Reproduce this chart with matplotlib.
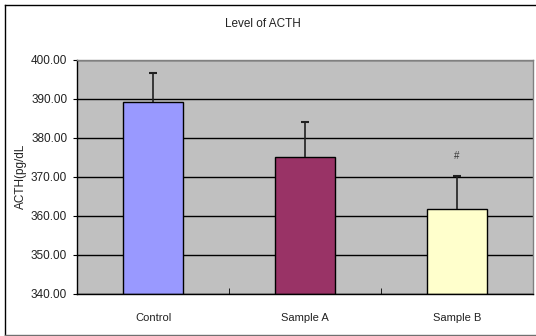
import matplotlib.pyplot as plt
from matplotlib.lines import Line2D
import numpy as np

# data
groups = ["Control", "Sample A", "Sample B"]
means = [389.2, 375.2, 361.8]
errors = [7.5, 8.9, 8.4]
bar_colors = ["#9999FF", "#993366", "#FFFFCC"]
marks = ["", "", "#"]
yticks = [340, 350, 360, 370, 380, 390, 400]

plt.rcParams['font.family'] = ['Liberation Sans', 'DejaVu Sans']

fig = plt.figure(figsize=(5.36, 3.36), dpi=100)
W, H = 536, 336
ax = fig.add_axes([77 / W, 1 - 293.5 / H, 456 / W, 233.5 / H])

x = np.arange(len(groups))
ax.set_facecolor("#C0C0C0")
ax.set_axisbelow(True)
ax.yaxis.grid(True, color="black", linewidth=1)

ax.bar(x, np.array(means) - 340, bottom=340, width=0.4, color=bar_colors,
       edgecolor="black", linewidth=1, zorder=2)
eb = ax.errorbar(x, means, yerr=[np.zeros(len(errors)), errors], fmt="none",
                 ecolor="#202020", elinewidth=1.2, capsize=3, capthick=1.5, zorder=3)
# only the upper cap is drawn in the reference
eb[1][0].set_visible(False)
eb[1][1].set_color("#404040")

for xi, m, e, s in zip(x, means, errors, marks):
    if s:
        ax.annotate(s, (xi, m + e), xytext=(0, 11), textcoords="offset points",
                    ha="center", va="bottom", fontsize=7, color="#333333")

ax.set_xlim(-0.5, 2.5)
ax.set_ylim(340, 400)
ax.set_yticks(yticks)
ax.set_yticklabels([f"{v:.2f}" for v in yticks], fontsize=8.5, color="#222222")
ax.set_xticks(x)
ax.set_xticklabels(groups, fontsize=8, color="#222222")
ax.set_xticks([0.5, 1.5], minor=True)
ax.tick_params(axis="x", which="major", length=0, pad=14)
ax.tick_params(axis="x", which="minor", direction="in", length=4, color="black")
ax.tick_params(axis="y", length=3, direction="out", pad=4)

ax.spines["left"].set_color("black")
ax.spines["bottom"].set_color("black")
ax.spines["top"].set_color("#808080")
ax.spines["right"].set_color("#808080")
for sp in ax.spines.values():
    sp.set_linewidth(1)

ax.set_ylabel("ACTH(pg/dL", fontsize=8.5, color="#222222")
ax.yaxis.set_label_coords((27 - 77) / 456, 0.5)
fig.text(263 / W, 1 - 24 / H, "Level of ACTH", ha="center", va="center",
         fontsize=8.5, color="#222222")

# chart border
fig.add_artist(Line2D([4.5 / W, 4.5 / W], [1 - 4.5 / H, 1 - 334.5 / H], color="black", lw=1))
fig.add_artist(Line2D([4.5 / W, 1], [1 - 4.5 / H, 1 - 4.5 / H], color="black", lw=1))
fig.add_artist(Line2D([4.5 / W, 1], [1 - 334.5 / H, 1 - 334.5 / H], color="#707070", lw=1))

fig.savefig("out.png", dpi=100)
